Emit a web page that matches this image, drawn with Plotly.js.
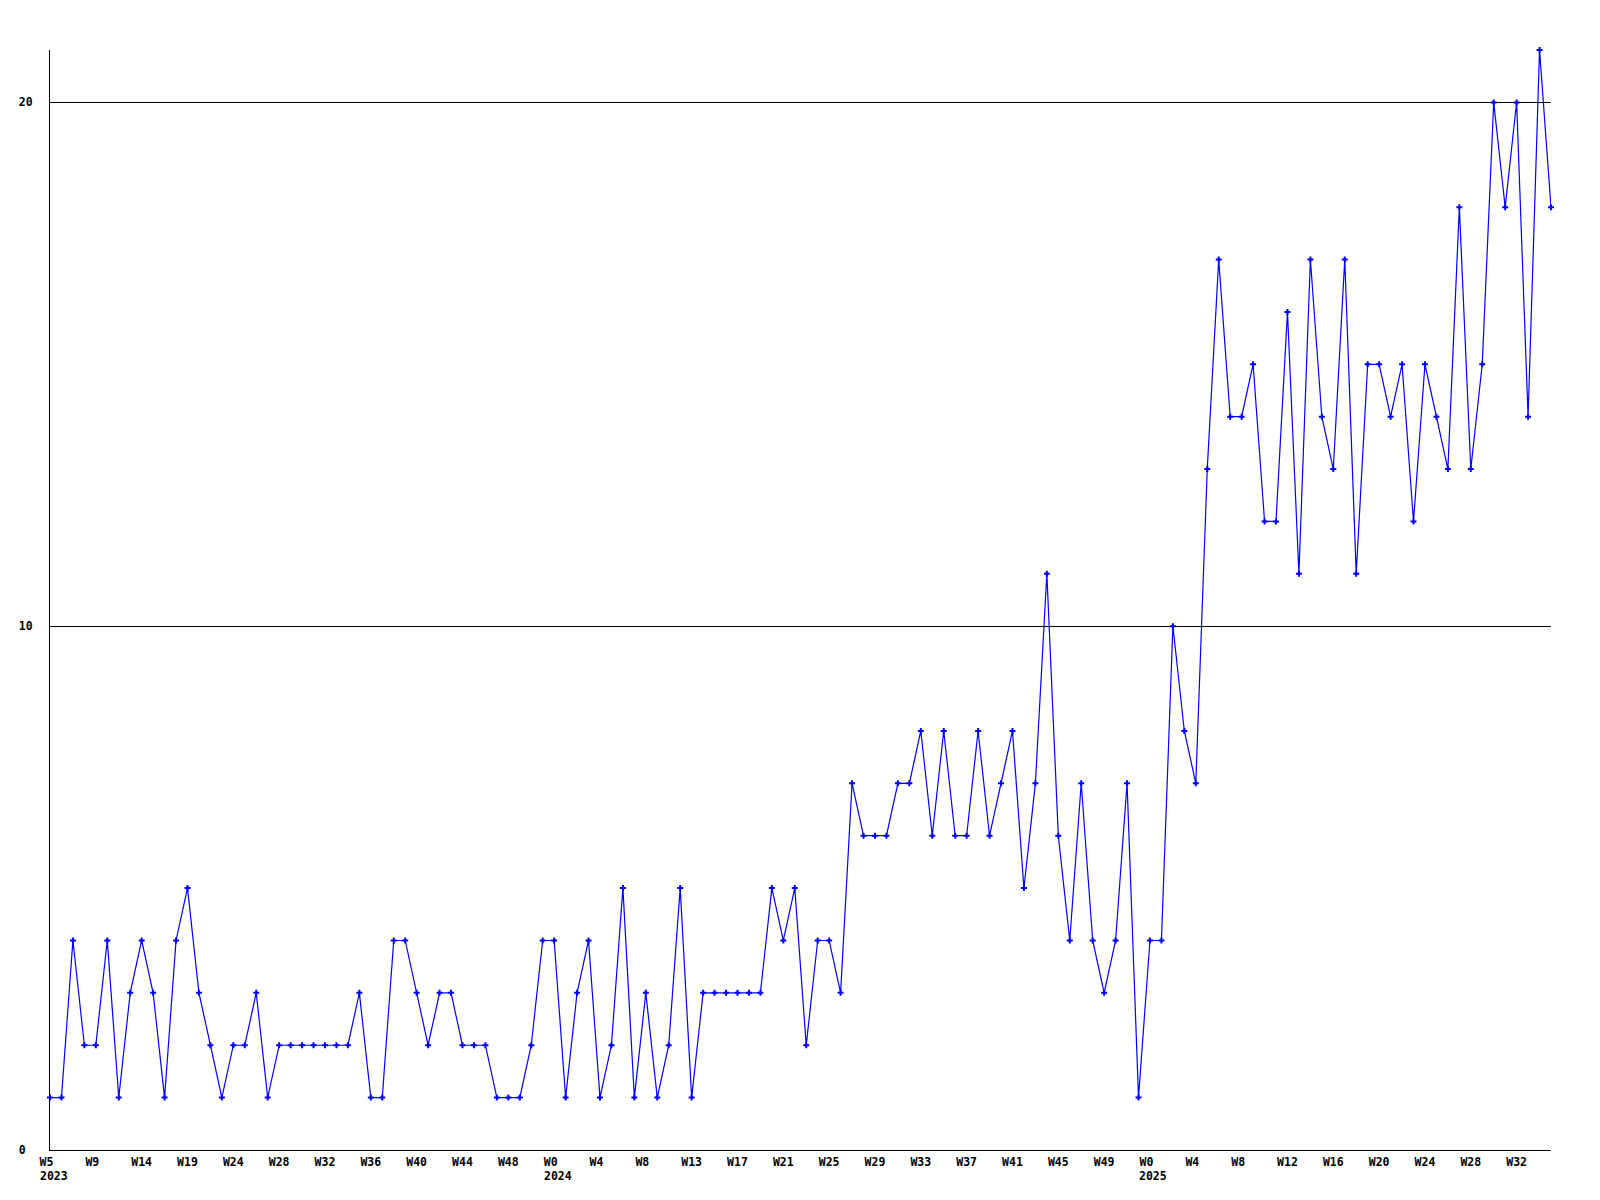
<!DOCTYPE html>
<html>
<head>
<meta charset="utf-8">
<script src="https://cdn.plot.ly/plotly-3.0.1.min.js"></script>
<style>html,body{margin:0;padding:0;background:#fff;}#chart{width:1600px;height:1200px;}</style>
</head>
<body>
<div id="chart"></div>
<script>
// Weekly values, 2023 W5 onward (132 weeks)
const values2023 = [1,1,4,2,2,4,1,3,4,3,1,4,5,3,2,1,2,2,3,1,2,2,2,2,2,2,2,3,1,1,4,4,3,2,3,3,2,2,2,1,1,1];
const values2024 = [2,4,4,1,3,4,1,2,5,1,3,1,2,5,1,3,3,3,3,3,3,5,4,5,2,4,4,3,
                    7,6,6,6,7,7,8,6,8,6,6,8,6,7,8,5,7,11,6,4,7,4,3,4,7,1];
const values2025 = [4,4,10,8,7,13,17,14,14,15,12,12,16,11,17,14,13,17,11,15,15,14,15,12,15,14,13,18,13,15,20,18,20,14,21,18];

// Axis tick labels (one every 4 weeks)
const weekTicks = ["W5","W9","W14","W19","W24","W28","W32","W36","W40","W44","W48","W0",
                   "W4","W8","W13","W17","W21","W25","W29","W33","W37","W41","W45","W49","W0",
                   "W4","W8","W12","W16","W20","W24","W28","W32"];
const yearLabels = ["2023","2024","2025"];
const yearTickIndex = [0, 11, 24];   // which week tick each year sits under
const yTickVals = [0, 10, 20];
const yTickText = ["0", "10", "20"];

const values = values2023.concat(values2024, values2025);
const xs = values.map((v, i) => i);
const tickStep = 4;
const tickvals = weekTicks.map((t, i) => i * tickStep);
const ticktext = weekTicks.map(t => t.length < 3 ? t + "\u00a0" : t);
const ytext = yTickText.map(t => t.length < 2 ? t + "\u00a0" : t);

const font = {family: "DejaVu Sans Mono, Liberation Mono, monospace", size: 11.5, color: "#000", weight: "bold"};

const trace = {
  x: xs, y: values, type: "scatter", mode: "lines+markers",
  line: {color: "#0000ff", width: 1.2},
  marker: {color: "#0000ff", symbol: "cross", size: 5},
  cliponaxis: false,
  hoverinfo: "skip"
};

const annotations = yearLabels.map((y, k) => ({
  text: y, x: tickvals[yearTickIndex[k]], xref: "x", y: 0, yref: "paper",
  xanchor: "left", yanchor: "top", xshift: -12.5, yshift: -17,
  showarrow: false, font: font
}));

const layout = {
  width: 1600, height: 1200,
  margin: {l: 50, r: 49, t: 50, b: 50, pad: 0},
  paper_bgcolor: "#fff", plot_bgcolor: "#fff",
  showlegend: false,
  font: font,
  xaxis: {
    range: [0, xs.length - 1], tickmode: "array", tickvals: tickvals, ticktext: ticktext,
    showgrid: false, zeroline: false, showline: true, linecolor: "#000", linewidth: 1,
    ticks: "", tickfont: font, ticklabelstandoff: 1, fixedrange: true
  },
  yaxis: {
    range: [0, 21], tickmode: "array", tickvals: yTickVals, ticktext: ytext,
    showgrid: true, gridcolor: "#000", gridwidth: 1, zeroline: false,
    showline: true, linecolor: "#000", linewidth: 1,
    ticks: "", tickfont: font, ticklabelstandoff: 14, fixedrange: true
  },
  annotations: annotations
};

Plotly.newPlot("chart", [trace], layout, {staticPlot: true, displayModeBar: false});
</script>
</body>
</html>
